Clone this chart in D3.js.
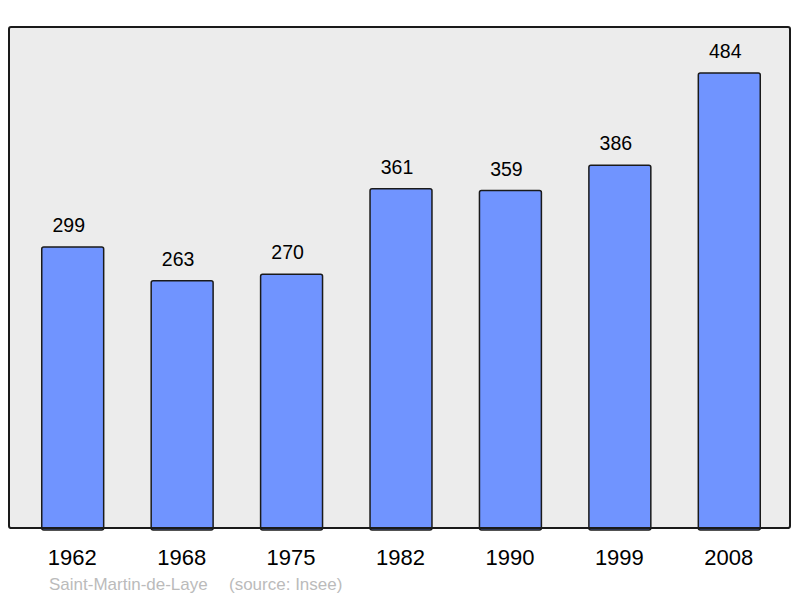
<!DOCTYPE html>
<html>
<head>
<meta charset="utf-8">
<script src="https://cdn.jsdelivr.net/npm/d3@7"></script>
<style>
  body { margin: 0; background: #fff; }
  svg { display: block; font-family: "Liberation Sans", Arial, sans-serif; }
</style>
</head>
<body>
<svg id="chart" width="800" height="598"></svg>
<script>
const years = ['1962', '1968', '1975', '1982', '1990', '1999', '2008'];
const population = [299, 263, 270, 361, 359, 386, 484];
const place = 'Saint-Martin-de-Laye';
const source = '(source: Insee)';

const svg = d3.select('#chart');
const panel = { left: 9, top: 27, right: 790, bottom: 528 };

svg.append('rect')
  .attr('x', panel.left)
  .attr('y', panel.top)
  .attr('width', panel.right - panel.left)
  .attr('height', panel.bottom - panel.top)
  .attr('rx', 2)
  .attr('fill', '#ececec')
  .attr('stroke', '#1a1a1a')
  .attr('stroke-width', 2);

const x = d3.scaleBand()
  .domain(years)
  .range([18, 784])
  .paddingInner(0.434)
  .paddingOuter(0.217);

const y = d3.scaleLinear()
  .domain([0, 484])
  .range([panel.bottom, 73]);

const data = years.map((yr, i) => ({ year: yr, value: population[i] }));

svg.selectAll('.bar')
  .data(data)
  .enter().append('rect')
  .attr('class', 'bar')
  .attr('x', d => x(d.year))
  .attr('y', d => y(d.value))
  .attr('width', x.bandwidth())
  .attr('height', d => panel.bottom - y(d.value) + 2)
  .attr('rx', 2)
  .attr('fill', '#7094ff')
  .attr('stroke', '#1a1a1a')
  .attr('stroke-width', 1.5);

// redraw bottom border over bars
svg.append('line')
  .attr('x1', panel.left + 1).attr('x2', panel.right - 1)
  .attr('y1', panel.bottom).attr('y2', panel.bottom)
  .attr('stroke', '#1a1a1a').attr('stroke-width', 2);

// value labels sit a little left of the bar centre in the original
svg.selectAll('.val')
  .data(data)
  .enter().append('text')
  .attr('class', 'val')
  .attr('x', d => x(d.year) + x.bandwidth() / 2 - 4)
  .attr('y', d => y(d.value) - 15)
  .attr('text-anchor', 'middle')
  .attr('font-size', 19.5)
  .attr('fill', '#000')
  .text(d => d.value);

const axis = svg.append('g')
  .attr('transform', 'translate(0,' + panel.bottom + ')')
  .call(d3.axisBottom(x).tickSize(0).tickPadding(0));
axis.select('.domain').remove();
axis.selectAll('text')
  .attr('y', 37)
  .attr('dy', 0)
  .attr('x', -0.5)
  .attr('font-size', 22)
  .attr('font-family', '"Liberation Sans", Arial, sans-serif')
  .attr('fill', '#000');

svg.append('text')
  .attr('x', 49).attr('y', 590)
  .attr('font-size', 17)
  .attr('fill', '#bbbbbb')
  .text(place);
svg.append('text')
  .attr('x', 229).attr('y', 590)
  .attr('font-size', 17)
  .attr('fill', '#bbbbbb')
  .text(source);
</script>
</body>
</html>
